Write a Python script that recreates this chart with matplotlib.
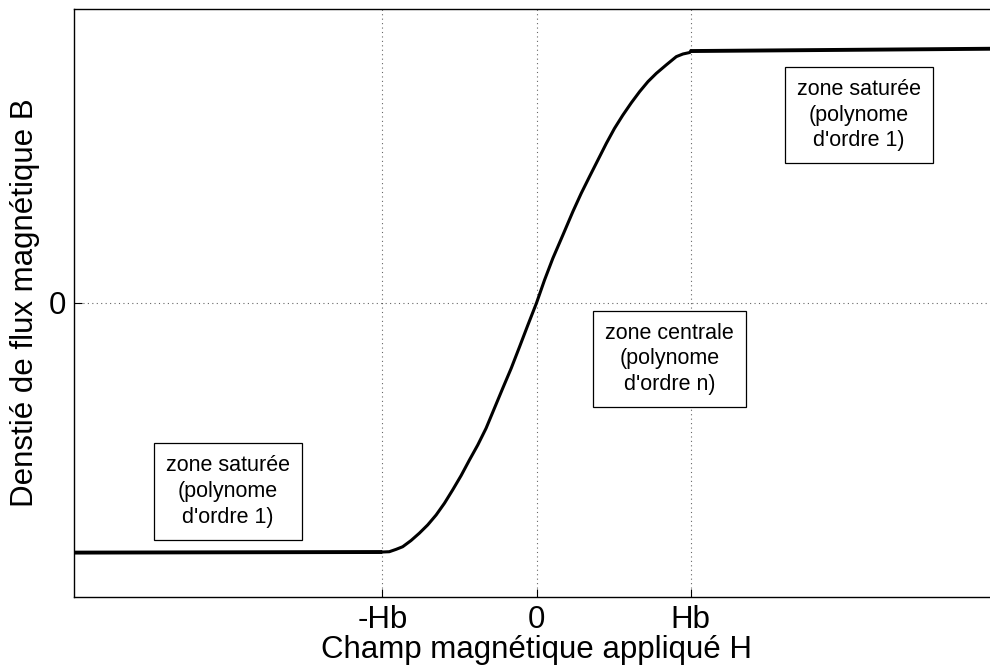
import numpy as np
import matplotlib.pyplot as plt

plt.rcParams['font.family'] = ['Liberation Sans', 'DejaVu Sans']

# --- données (H en unités de Hb, B normalisé) ---
H_sat_bas = [-3.0, -1.0]
B_sat_bas = [-0.849, -0.847]

H_centre = [-1.0, -0.955, -0.911, -0.868, -0.814, -0.760, -0.706, -0.651, -0.597,
            -0.544, -0.489, -0.435, -0.381, -0.327, -0.273, -0.219, -0.164, -0.110,
            -0.056, 0.0, 0.052, 0.106, 0.171, 0.236, 0.290, 0.344, 0.398, 0.453,
            0.506, 0.560, 0.615, 0.669, 0.723, 0.777, 0.842, 0.907, 0.950, 0.994, 1.0]
B_centre = [-0.847, -0.846, -0.838, -0.829, -0.808, -0.783, -0.755, -0.721, -0.681,
            -0.636, -0.587, -0.534, -0.483, -0.426, -0.358, -0.290, -0.222, -0.149,
            -0.075, 0.0, 0.078, 0.152, 0.231, 0.311, 0.373, 0.430, 0.486, 0.543,
            0.594, 0.639, 0.681, 0.719, 0.753, 0.781, 0.810, 0.838, 0.847, 0.852, 0.857]

H_sat_haut = [1.0, 3.0]
B_sat_haut = [0.857, 0.865]

xticks = [-1, 0, 1]
xtick_labels = ['-Hb', '0', 'Hb']
yticks = [0]
ytick_labels = ['0']

zones = ['zone saturée\n(polynome\nd\'ordre 1)',
         'zone centrale\n(polynome\nd\'ordre n)',
         'zone saturée\n(polynome\nd\'ordre 1)']
zones_H = [-2.0, 0.864, 2.09]
zones_B = [-0.641, -0.19, 0.639]

# --- figure ---
fig = plt.figure(figsize=(9.9, 6.7), dpi=100)
ax = fig.add_axes([74 / 990, 73 / 670, 925 / 990, 588 / 670])

ax.plot(H_sat_bas, B_sat_bas, 'k-', lw=2.8, solid_capstyle='butt')
ax.plot(H_centre, B_centre, 'k-', lw=2.2, solid_joinstyle='round')
ax.plot(H_sat_haut, B_sat_haut, 'k-', lw=2.8, solid_capstyle='butt')

ax.set_xlim(-3, 3)
ax.set_ylim(-1, 1)
ax.set_xticks(xticks)
ax.set_xticklabels(xtick_labels)
ax.set_yticks(yticks)
ax.set_yticklabels(ytick_labels)
ax.tick_params(direction='in', length=6, width=0.8, labelsize=22.5, pad=6)

ax.grid(True, color='k', linestyle=(0, (1, 3)), linewidth=0.8, alpha=0.6)
for s in ax.spines.values():
    s.set_linewidth(1.0)

ax.set_xlabel('Champ magnétique appliqué H', fontsize=22.5, labelpad=0)
ax.set_ylabel('Denstié de flux magnétique B', fontsize=22.5, labelpad=6)

for txt, h, b in zip(zones, zones_H, zones_B):
    ax.text(h, b, txt, ha='center', va='center', fontsize=15.5, linespacing=1.3,
            bbox=dict(boxstyle='square,pad=0.55', fc='white', ec='k', lw=0.9))

fig.savefig('out.png', dpi=100)
